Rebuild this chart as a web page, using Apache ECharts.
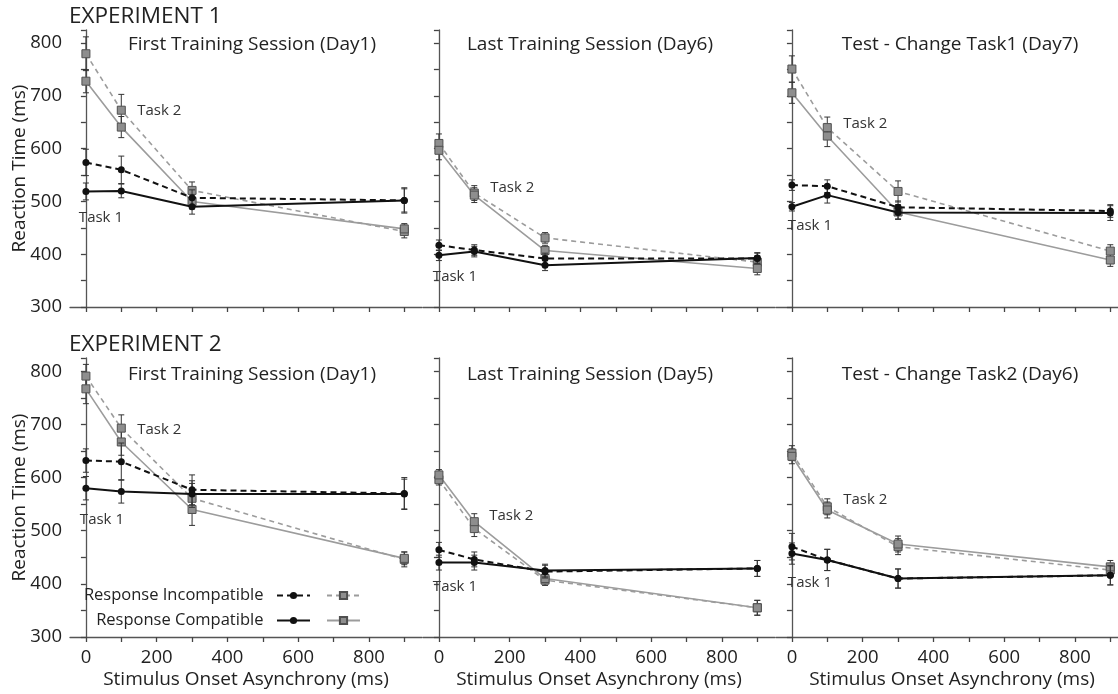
<!DOCTYPE html>
<html>
<head>
<meta charset="utf-8">
<script src="https://cdn.jsdelivr.net/npm/echarts@6/dist/echarts.min.js"></script>
<style>
  html, body { margin: 0; padding: 0; background: #fff; }
  #chart { width: 1118px; height: 694px; }
</style>
</head>
<body>
<div id="chart"></div>
<script>
// ---- data ----
var soa = [0, 100, 300, 900];
var xTickValues = [0, 100, 200, 300, 400, 500, 600, 700, 800, 900];
var xLabelValues = [0, 200, 400, 600, 800];
var yLabelValues = [300, 400, 500, 600, 700, 800];
var experimentTitles = ['EXPERIMENT 1', 'EXPERIMENT 2'];
var panelTitles = [
    'First Training Session (Day1)', 'Last Training Session (Day6)', 'Test - Change Task1 (Day7)',
    'First Training Session (Day1)', 'Last Training Session (Day5)', 'Test - Change Task2 (Day6)'
];
var seriesNames = ['Task 1 Incompatible', 'Task 1 Compatible', 'Task 2 Incompatible', 'Task 2 Compatible'];

// rows: Task1 incompatible, Task1 compatible, Task2 incompatible, Task2 compatible
var e1Day1 = [[574, 560, 507, 502], [519, 520, 490, 502], [780, 673, 521, 443], [728, 641, 500, 448]];
var e1Day1Err = [[25, 26, 15, 24], [16, 13, 14, 22], [32, 30, 16, 12], [22, 20, 14, 10]];
var e1Day6 = [[417, 408, 392, 392], [398, 405, 379, 393], [610, 516, 431, 385], [597, 512, 407, 373]];
var e1Day6Err = [[10, 10, 10, 10], [10, 10, 10, 10], [18, 14, 10, 12], [18, 14, 10, 12]];
var e1Day7 = [[531, 529, 489, 482], [490, 512, 479, 478], [751, 640, 519, 406], [706, 624, 480, 389]];
var e1Day7Err = [[10, 12, 12, 12], [8, 15, 12, 14], [25, 20, 20, 12], [20, 20, 14, 12]];
var e2Day1 = [[632, 630, 577, 570], [580, 574, 569, 569], [791, 693, 561, 446], [767, 667, 540, 448]];
var e2Day1Err = [[22, 35, 28, 30], [22, 22, 25, 28], [22, 25, 28, 14], [28, 25, 30, 12]];
var e2Day5 = [[464, 446, 423, 429], [440, 440, 425, 429], [596, 504, 407, 355], [605, 517, 410, 355]];
var e2Day5Err = [[14, 14, 12, 15], [14, 14, 12, 15], [10, 15, 10, 14], [10, 15, 10, 14]];
var e2Day6 = [[470, 445, 410, 416], [457, 445, 410, 416], [646, 545, 470, 426], [640, 539, 475, 432]];
var e2Day6Err = [[25, 20, 18, 18], [20, 20, 18, 18], [14, 15, 15, 12], [14, 15, 15, 12]];

var panelData = [e1Day1, e1Day6, e1Day7, e2Day1, e2Day5, e2Day6];
var panelErr = [e1Day1Err, e1Day6Err, e1Day7Err, e2Day1Err, e2Day5Err, e2Day6Err];

// ---- layout ----
var FONT = 'Open Sans';
var TEXT = '#222';
var AXIS = '#555';
var gridLefts = [70, 423, 776];
var gridTops = [30, 358];
var gridHeights = [277, 279];
var gridWidth = 352;
var titleCenters = [252, 590, 960];
var titleTops = [35, 365];

// [series index, point index, dx, dy] for "Task 2" and "Task 1" annotations
var task2Spot = [[2, 1, 38, 1], [2, 1, 38, -5], [2, 1, 38, -4], [2, 1, 38, 2], [3, 1, 37, -6], [3, 1, 38, -10]];
var task1Spot = [[1, 0, 15, 26], [1, 0, 16, 21], [1, 0, 18, 19], [1, 0, 16, 32], [1, 0, 16, 24], [1, 0, 18, 29]];

var styles = [
    { color: '#111', type: [6, 4], width: 2, symbol: 'circle', size: 7, fill: '#111', border: '#111' },
    { color: '#111', type: 'solid', width: 2, symbol: 'circle', size: 7, fill: '#111', border: '#111' },
    { color: '#9c9c9c', type: [5, 4], width: 1.6, symbol: 'rect', size: 8, fill: '#8e8e8e', border: '#505050' },
    { color: '#9c9c9c', type: 'solid', width: 1.6, symbol: 'rect', size: 8, fill: '#8e8e8e', border: '#505050' }
];

var chartDom = document.getElementById('chart');
var myChart = echarts.init(chartDom);

var grids = [], xAxes = [], yAxes = [], series = [];
var titles = [];

experimentTitles.forEach(function (t, r) {
    titles.push({
        text: t, left: 69, top: r === 0 ? 5 : 333, padding: 0,
        textStyle: { fontFamily: FONT, fontSize: 22.5, fontWeight: 'normal', color: TEXT }
    });
});

for (var p = 0; p < 6; p++) {
    var row = Math.floor(p / 3), col = p % 3;
    grids.push({
        left: gridLefts[col], top: gridTops[row], width: gridWidth, height: gridHeights[row],
        outerBoundsMode: 'none', containLabel: false
    });
    titles.push({
        text: panelTitles[p], left: titleCenters[col], top: titleTops[row], textAlign: 'center', padding: 0,
        textStyle: { fontFamily: FONT, fontSize: 19, fontWeight: 'normal', color: TEXT }
    });
    xAxes.push({
        gridIndex: p, type: 'value', min: -45, max: 950,
        axisLine: { show: true, lineStyle: { color: AXIS, width: 1.3 } },
        axisTick: { show: true, inside: false, length: 5, customValues: xTickValues, lineStyle: { color: '#444', width: 1.3 } },
        splitLine: { show: false },
        axisLabel: {
            show: row === 1, margin: 11, customValues: xLabelValues,
            fontFamily: FONT, fontSize: 18.5, color: TEXT
        },
        name: row === 1 ? 'Stimulus Onset Asynchrony (ms)' : '',
        nameLocation: 'middle', nameGap: 33, nameMoveOverlap: false,
        nameTextStyle: { fontFamily: FONT, fontSize: 19, color: TEXT }
    });
    yAxes.push({
        gridIndex: p, type: 'value', min: 300, max: 825, interval: 50,
        axisLine: { show: true, lineStyle: { color: AXIS, width: 1.3 } },
        axisTick: { show: true, inside: false, length: 5, lineStyle: { color: '#444', width: 1.3 } },
        splitLine: { show: false },
        axisLabel: {
            show: col === 0, margin: 8,
            formatter: function (v) { return yLabelValues.indexOf(v) >= 0 ? String(v) : ''; },
            fontFamily: FONT, fontSize: 18.5, color: TEXT
        },
        name: col === 0 ? 'Reaction Time (ms)' : '',
        nameLocation: 'middle', nameGap: 41, nameMoveOverlap: false,
        nameTextStyle: { fontFamily: FONT, fontSize: 19, color: TEXT }
    });

    // gray (task 2) first, black (task 1) on top
    [2, 3, 0, 1].forEach(function (s) {
        var st = styles[s];
        var vals = panelData[p][s];
        var errs = panelErr[p][s];
        var pts = soa.map(function (x, i) {
            var item = { value: [x, vals[i]] };
            var spots = [task2Spot[p], task1Spot[p]];
            spots.forEach(function (sp, k) {
                if (sp[0] === s && sp[1] === i) {
                    item.label = {
                        show: true, formatter: k === 0 ? 'Task 2' : 'Task 1',
                        position: 'inside', offset: [sp[2], sp[3]],
                        fontFamily: FONT, fontSize: 15, color: '#333'
                    };
                }
            });
            return item;
        });
        series.push({
            type: 'custom', name: seriesNames[s] + ' err', xAxisIndex: p, yAxisIndex: p,
            silent: true, z: s < 2 ? 4 : 2,
            encode: { x: 0, y: [1, 2] },
            data: soa.map(function (x, i) { return [x, vals[i] - errs[i], vals[i] + errs[i]]; }),
            renderItem: function (params, api) {
                var lo = api.coord([api.value(0), api.value(1)]);
                var hi = api.coord([api.value(0), api.value(2)]);
                var w = 3;
                var ls = { stroke: '#333', lineWidth: 1 };
                return {
                    type: 'group', children: [
                        { type: 'line', shape: { x1: lo[0], y1: lo[1], x2: hi[0], y2: hi[1] }, style: ls },
                        { type: 'line', shape: { x1: lo[0] - w, y1: lo[1], x2: lo[0] + w, y2: lo[1] }, style: ls },
                        { type: 'line', shape: { x1: hi[0] - w, y1: hi[1], x2: hi[0] + w, y2: hi[1] }, style: ls }
                    ]
                };
            }
        });
        series.push({
            type: 'line', name: seriesNames[s], xAxisIndex: p, yAxisIndex: p,
            z: s < 2 ? 5 : 3,
            data: pts,
            symbol: st.symbol, symbolSize: st.size, showSymbol: true,
            lineStyle: { color: st.color, width: st.width, type: st.type },
            itemStyle: { color: st.fill, borderColor: st.border, borderWidth: s < 2 ? 0 : 1 },
            label: { show: false },
            emphasis: { disabled: true },
            animation: false
        });
    });
}

// both legend rows right-aligned so the icon columns line up
var legendBase = {
    orient: 'horizontal', align: 'right', right: 752, itemWidth: 33, itemHeight: 9, itemGap: 15,
    textStyle: { fontFamily: FONT, fontSize: 16.5, color: TEXT },
    selectedMode: false
};

var option = {
    backgroundColor: '#fff',
    animation: false,
    title: titles,
    grid: grids,
    xAxis: xAxes,
    yAxis: yAxes,
    legend: [
        Object.assign({}, legendBase, {
            top: 582, data: ['Task 1 Incompatible', 'Task 2 Incompatible'],
            formatter: function (n) { return n === 'Task 1 Incompatible' ? 'Response Incompatible  ' : ''; }
        }),
        Object.assign({}, legendBase, {
            top: 607, data: ['Task 1 Compatible', 'Task 2 Compatible'],
            formatter: function (n) { return n === 'Task 1 Compatible' ? 'Response Compatible  ' : ''; }
        })
    ],
    series: series
};
myChart.setOption(option);
</script>
</body>
</html>
